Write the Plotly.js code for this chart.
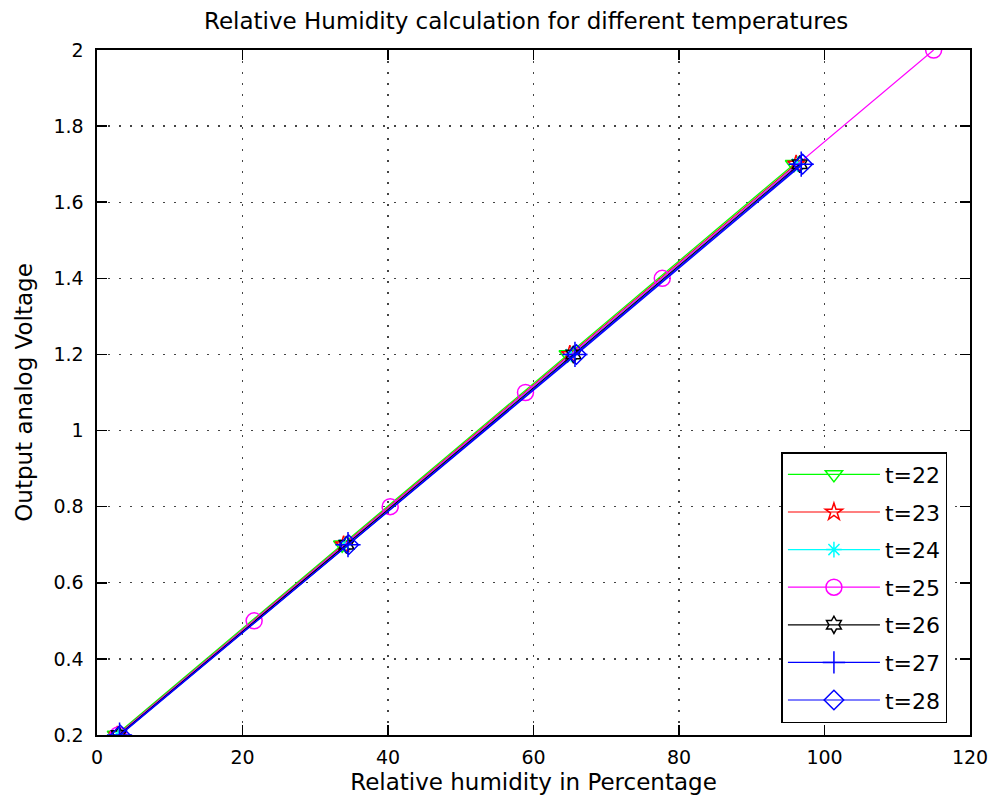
<!DOCTYPE html>
<html>
<head>
<meta charset="utf-8">
<script src="https://cdn.plot.ly/plotly-3.0.1.min.js"></script>
<style>html,body{margin:0;padding:0;background:#fff;}#chart{width:989px;height:807px;}</style>
</head>
<body>
<div id="chart"></div>
<script>
const seriesNames = ["t=22","t=23","t=24","t=25","t=26","t=27","t=28"];
const voltsCommon = [0.2, 0.7, 1.2, 1.7];
const volts25 = [0.2, 0.5, 0.8, 1.1, 1.4, 2.0];
const rh22 = [2.6, 33.7, 64.7, 95.8];
const rh23 = [2.8, 33.9, 65.0, 96.1];
const rh24 = [2.9, 34.1, 65.2, 96.3];
const rh25 = [2.9, 21.6, 40.3, 58.9, 77.7, 115.0];
const rh26 = [3.0, 34.3, 65.5, 96.6];
const rh27 = [3.1, 34.5, 65.7, 96.8];
const rh28 = [3.2, 34.6, 65.9, 97.0];
const xTicks = [0, 20, 40, 60, 80, 100, 120];
const yTickVals = [0.2, 0.4, 0.6, 0.8, 1, 1.2, 1.4, 1.6, 1.8, 2];
const yTickText = ["0.2","0.4","0.6","0.8","1","1.2","1.4","1.6","1.8","2"];

const xs = [rh22, rh23, rh24, rh25, rh26, rh27, rh28];
const ys = [voltsCommon, voltsCommon, voltsCommon, volts25, voltsCommon, voltsCommon, voltsCommon];
const colors = ["#00ff00","#ff0000","#00ffff","#ff00ff","#000000","#0000ff","#0000ff"];
const symbols = ["triangle-down-open","star-open","asterisk-open","circle-open","hexagram-open","cross-thin-open","diamond-open"];
const sizes = [15, 13, 13, 16, 13, 18, 15];

const traces = seriesNames.map((n, i) => ({
  x: xs[i], y: ys[i], name: n, type: "scatter", mode: "lines+markers",
  legendgroup: "g" + i,
  line: {color: colors[i], width: 1.2},
  marker: {symbol: symbols[i], color: colors[i], size: sizes[i], line: {color: colors[i], width: 1.5}}
}));

const FAM = "DejaVu Sans, Liberation Sans, sans-serif";
const tickFont = {family: FAM, size: 19, color: "#000"};
const titleFont = {family: FAM, size: 23, color: "#000"};
const gridDash = "2px,9px";
const layout = {
  width: 989, height: 807,
  margin: {l: 97, r: 19, t: 50, b: 72},
  paper_bgcolor: "#fff", plot_bgcolor: "#fff",
  title: {text: "Relative Humidity calculation for different temperatures", font: titleFont, x: 0.532, xanchor: "center", y: 0.974, yanchor: "middle"},
  xaxis: {
    range: [0, 120], tickvals: xTicks, ticks: "inside", ticklen: 10, tickcolor: "#000", tickwidth: 1.5,
    showline: true, linecolor: "#000", linewidth: 1.6, mirror: "ticks",
    showgrid: true, gridcolor: "#444", griddash: gridDash, gridwidth: 1.3, zeroline: false,
    tickfont: tickFont, ticklabelstandoff: 5, ticklabeloverflow: "allow",
    title: {text: "Relative humidity in Percentage", font: titleFont, standoff: 6}
  },
  yaxis: {
    range: [0.2, 2], tickvals: yTickVals, ticktext: yTickText, ticks: "inside", ticklen: 10, tickcolor: "#000", tickwidth: 1.5,
    showline: true, linecolor: "#000", linewidth: 1.6, mirror: "ticks",
    showgrid: true, gridcolor: "#444", griddash: gridDash, gridwidth: 1.3, zeroline: false,
    tickfont: tickFont, ticklabelstandoff: 8,
    title: {text: "Output analog Voltage", font: titleFont, standoff: 14}
  },
  showlegend: true,
  legend: {
    x: 0.784, y: 0.413, xanchor: "left", yanchor: "top",
    bgcolor: "#fff", bordercolor: "#000", borderwidth: 1.5,
    font: {family: FAM, size: 22, color: "#000"},
    traceorder: "grouped", tracegroupgap: 6, itemwidth: 92
  }
};
Plotly.newPlot("chart", traces, layout, {displayModeBar: false, staticPlot: true});
</script>
</body>
</html>
